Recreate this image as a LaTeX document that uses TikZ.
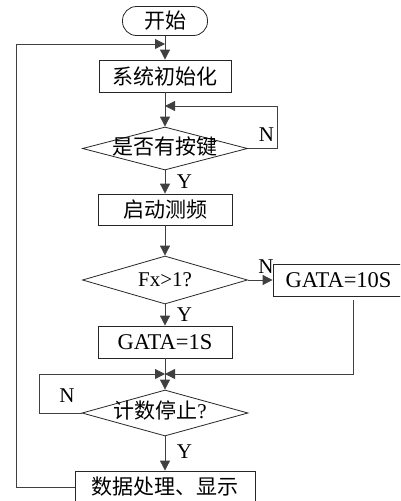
\documentclass[tikz,border=0pt]{standalone}
\usepackage{fontspec}
\setmainfont{Liberation Serif}
\newfontfamily\cjk{Noto Sans CJK SC}
\usetikzlibrary{shapes.geometric,arrows.meta}
\begin{document}
\begin{tikzpicture}[x=1pt,y=-1pt,
  every node/.style={font=\fontsize{21}{24}\selectfont},
  shp/.style={draw=black!85, line width=0.8pt, fill=white},
  boxn/.style={shp, rectangle, inner sep=0pt},
  dia/.style={shp, diamond, inner sep=0pt},
  txt/.style={inner sep=0pt},
  big/.style={font=\fontsize{22.5}{25}\selectfont},
  line/.style={draw=black!75, line width=0.8pt},
  arr/.style={line, -{Triangle[length=10pt,width=10pt]}},
  lab/.style={inner sep=0pt}]
\useasboundingbox (0,0) rectangle (400,501);
\clip (0,0) rectangle (400,501);
% nodes
\node[boxn, rounded corners=14pt, minimum width=85pt, minimum height=29pt] (start) at (165,21) {\cjk 开始};
\node[boxn, minimum width=132pt, minimum height=32pt] (init) at (165,76) {\cjk 系统初始化};
\node[dia, minimum width=165pt, minimum height=43pt] (key) at (165,148.5) {};
\node[txt] (keyt) at (165,147) {\cjk 是否有按键};
\node[boxn, minimum width=134pt, minimum height=31pt] (freq) at (165,209.5) {\cjk 启动测频};
\node[dia, minimum width=165pt, minimum height=48pt] (fx) at (165,280) {};
\node[txt] (fxt) at (165,280) {Fx>1?};
\node[lab] (n2) at (266,267) {N};
\node[boxn, big, minimum width=131pt, minimum height=32pt] (g10) at (338.5,280) {GATA=10S};
\node[boxn, big, minimum width=134pt, minimum height=32pt] (g1) at (165,342) {GATA=1S};
\node[dia, minimum width=166pt, minimum height=46pt] (stop) at (165,413) {};
\node[txt] (stopt) at (160,410) {{\cjk 计数停止}?};
\node[boxn, minimum width=180pt, minimum height=32pt] (data) at (165,487) {\cjk 数据处理、显示};
% labels
\node[lab] (y1) at (184.5,182) {Y};
\node[lab] (n1) at (266.5,134.5) {N};
\node[lab] (y2) at (184.5,315) {Y};
\node[lab] (n3) at (67,396) {N};
\node[lab] (y3) at (184.5,451.5) {Y};
% coordinates
\coordinate (j1) at (165,44);
\coordinate (j2) at (165,106);
\coordinate (j3) at (165,374);
\coordinate (l1) at (16,44);
\coordinate (kr) at (277,106);
\coordinate (g10b) at (353,300);
\coordinate (g10c) at (353,374);
\coordinate (sl) at (39,374);
% connectors
\draw[arr] (start.south) -- (init.north);
\draw[arr] (data.west) -| (l1) -- (j1);
\draw[arr] (init.south) -- (key.north);
\draw[arr] (key.east) -| (kr) -- (j2);
\draw[arr] (key.south) -- (freq.north);
\draw[arr] (freq.south) -- (fx.north);
\draw[arr] (fx.east) -- (g10.west);
\draw[arr] (fx.south) -- (g1.north);
\draw[arr] (g1.south) -- (stop.north);
\draw[arr] (g10b) -- (g10c) -- (j3);
\draw[arr] (stop.west) -| (sl) -- (j3);
\draw[arr] (stop.south) -- (data.north);
\end{tikzpicture}
\end{document}
